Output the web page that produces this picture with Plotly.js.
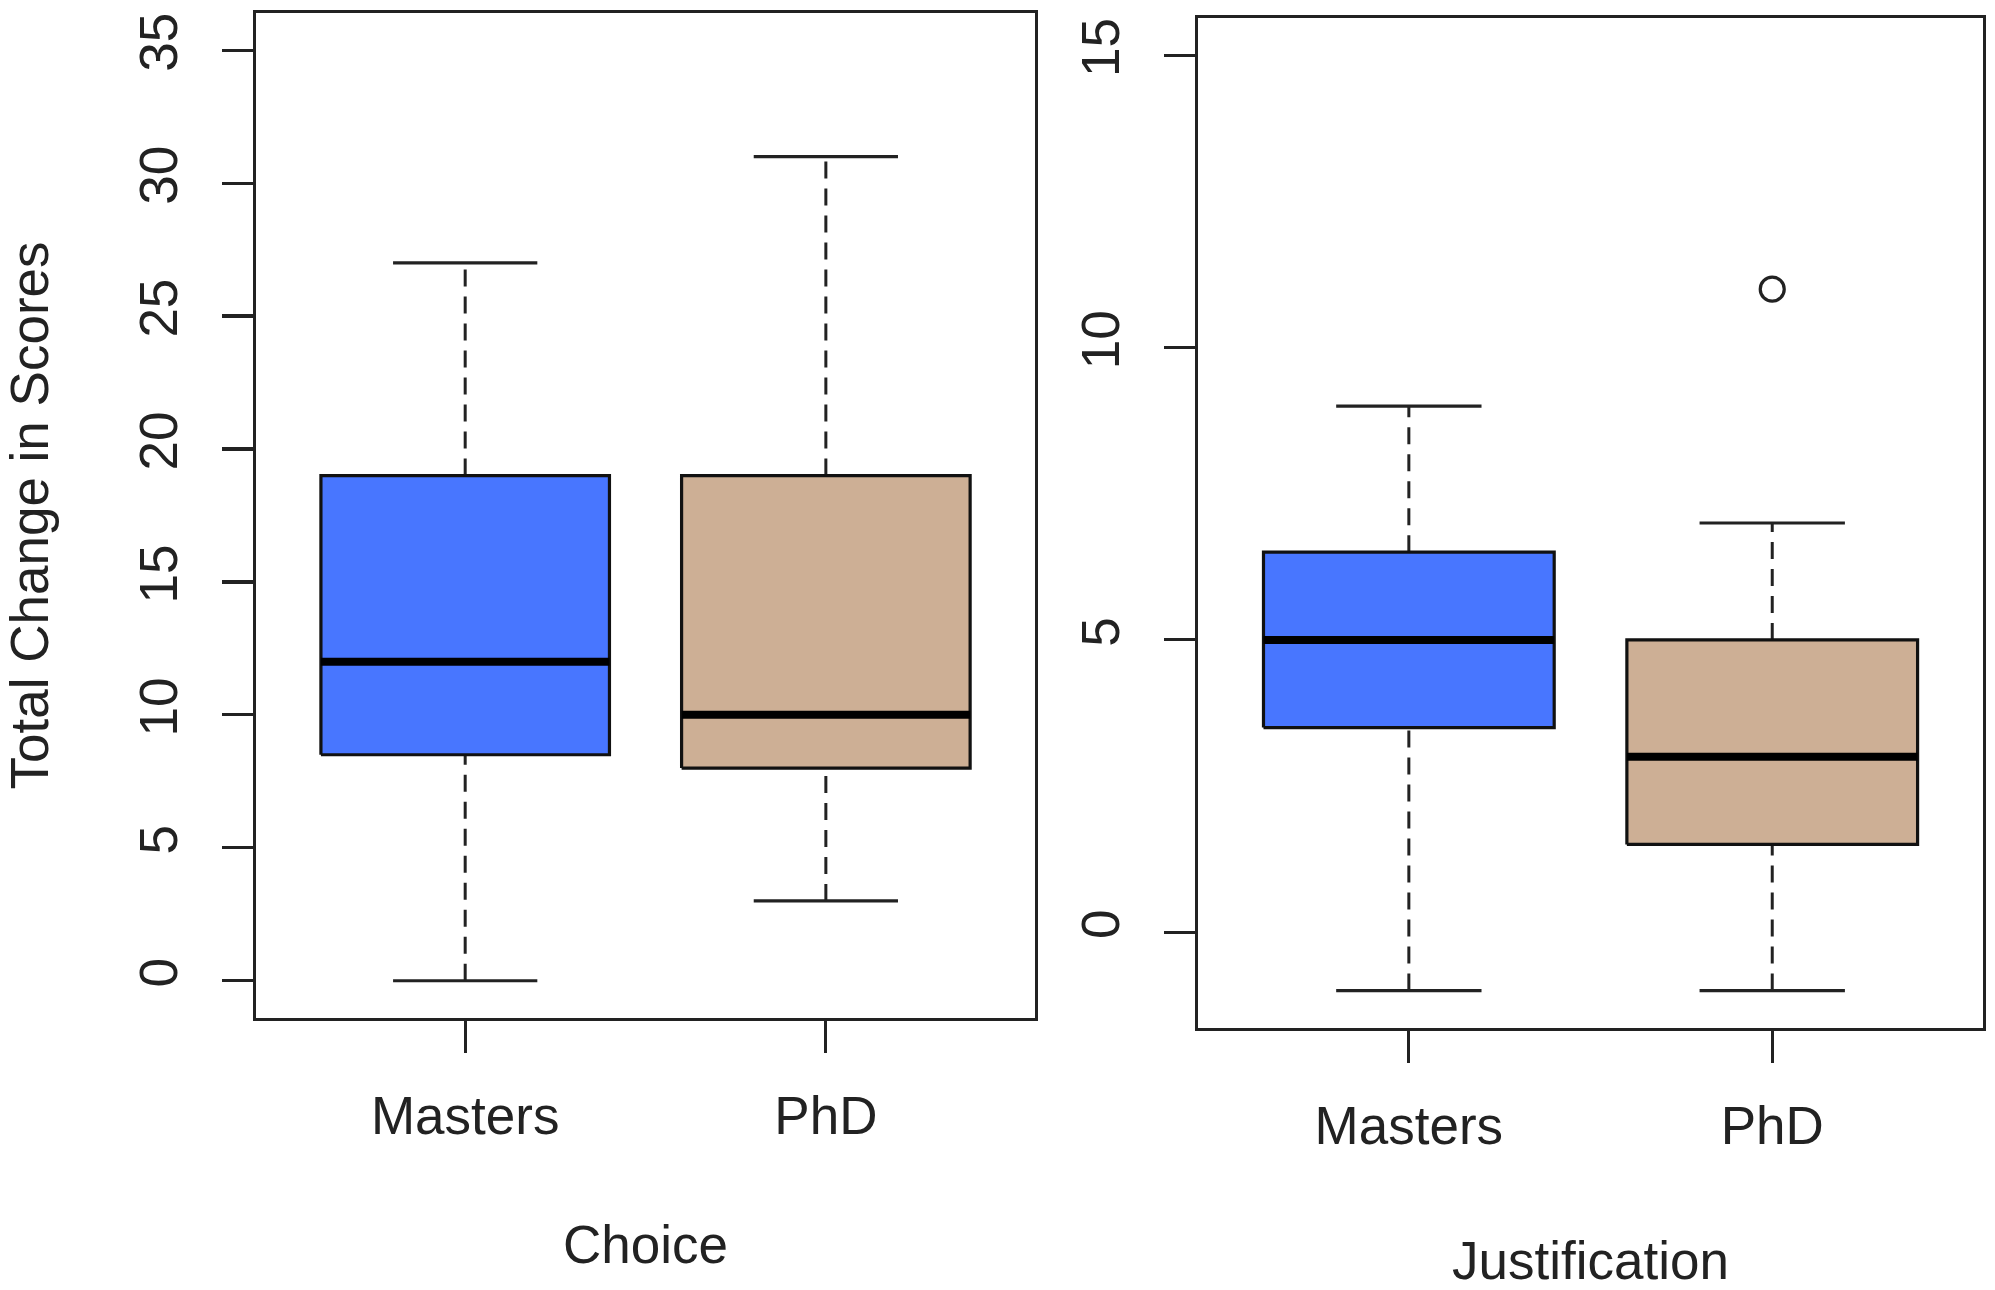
<!DOCTYPE html>
<html>
<head>
<meta charset="utf-8">
<script src="https://cdn.plot.ly/plotly-3.0.1.min.js"></script>
<style>html,body{margin:0;padding:0;background:#fff;}#chart{width:1995px;height:1290px;}</style>
</head>
<body>
<div id="chart"></div>
<script>
// ---- data ----
const categories = ['Masters', 'PhD'];
const categoryPositions = [1, 2];

// Panel 1: Choice
const choiceLower  = [0, 3];
const choiceQ1     = [8.5, 8];
const choiceMedian = [12, 10];
const choiceQ3     = [19, 19];
const choiceUpper  = [27, 31];
const choiceOutliers = [[], []];

// Panel 2: Justification
const justLower  = [-1, -1];
const justQ1     = [3.5, 1.5];
const justMedian = [5, 3];
const justQ3     = [6.5, 5];
const justUpper  = [9, 7];
const justOutliers = [[], [11]];

const yTicksChoice = [0, 5, 10, 15, 20, 25, 30, 35];
const yTicksJust = [0, 5, 10, 15];

const fillColors = ['#4876FF', '#CDAF95'];

// ---- build traces ----
const BOXHALF = 0.4, CAPHALF = 0.2;
function panelTraces(lower, q1, med, q3, upper, outl, xa, ya) {
  const tr = [];
  categoryPositions.forEach((x, i) => {
    // dashed whiskers
    tr.push({type:'scatter', mode:'lines', xaxis:xa, yaxis:ya, hoverinfo:'skip',
      x:[x, x, null, x, x], y:[lower[i], q1[i], null, q3[i], upper[i]],
      line:{color:'#222', width:3, dash:'17px,10px'}});
    // caps
    tr.push({type:'scatter', mode:'lines', xaxis:xa, yaxis:ya, hoverinfo:'skip',
      x:[x-CAPHALF, x+CAPHALF, null, x-CAPHALF, x+CAPHALF],
      y:[lower[i], lower[i], null, upper[i], upper[i]],
      line:{color:'#222', width:3.2}});
    // box
    tr.push({type:'scatter', mode:'lines', xaxis:xa, yaxis:ya, hoverinfo:'skip',
      x:[x-BOXHALF, x+BOXHALF, x+BOXHALF, x-BOXHALF, x-BOXHALF],
      y:[q1[i], q1[i], q3[i], q3[i], q1[i]],
      fill:'toself', fillcolor:fillColors[i],
      line:{color:'#111', width:3.2}});
    // median
    tr.push({type:'scatter', mode:'lines', xaxis:xa, yaxis:ya, hoverinfo:'skip',
      x:[x-BOXHALF, x+BOXHALF], y:[med[i], med[i]],
      line:{color:'#000', width:8}});
    // outliers
    if (outl[i].length) {
      tr.push({type:'scatter', mode:'markers', xaxis:xa, yaxis:ya, hoverinfo:'skip',
        x:outl[i].map(() => x), y:outl[i],
        marker:{symbol:'circle-open', size:24, color:'#222', line:{width:3.2, color:'#222'}}});
    }
  });
  return tr;
}

const data = [].concat(
  panelTraces(choiceLower, choiceQ1, choiceMedian, choiceQ3, choiceUpper, choiceOutliers, 'x', 'y'),
  panelTraces(justLower, justQ1, justMedian, justQ3, justUpper, justOutliers, 'x2', 'y2')
);

const FONT = '"Liberation Sans", Arial, Helvetica, sans-serif';
const txt = {family: FONT, size: 53, color: '#222'};

function xAxis(domain, anchor, title, standoff) {
  return {
    domain: domain, anchor: anchor, range: [0.42, 2.58],
    tickmode: 'array', tickvals: categoryPositions, ticktext: categories,
    ticks: 'outside', ticklen: 32, tickwidth: 3.2, tickcolor: '#222',
    tickfont: txt, ticklabelstandoff: 17,
    showline: true, mirror: true, linecolor: '#222', linewidth: 3.4,
    showgrid: false, zeroline: false, fixedrange: true,
    title: {text: title, font: txt, standoff: standoff}
  };
}
function yAxis(domain, anchor, range, ticks, title) {
  const ax = {
    domain: domain, anchor: anchor, range: range,
    tickmode: 'array', tickvals: ticks,
    ticks: 'outside', ticklen: 31, tickwidth: 3.2, tickcolor: '#222',
    tickfont: txt, tickangle: -90, ticklabelstandoff: 23,
    showline: true, mirror: true, linecolor: '#222', linewidth: 3.4,
    showgrid: false, zeroline: false, fixedrange: true
  };
  if (title) ax.title = {text: title, font: txt, standoff: 66};
  return ax;
}

const layout = {
  width: 1995, height: 1290,
  margin: {l: 256, r: 12, t: 13, b: 262},
  paper_bgcolor: '#fff', plot_bgcolor: '#fff',
  showlegend: false,
  xaxis: xAxis([0, 0.4511], 'y', 'Choice', 83),
  yaxis: yAxis([0.0099, 1], 'x', [-1.4, 36.4], yTicksChoice, 'Total Change in Scores'),
  xaxis2: xAxis([0.5455, 1], 'y2', 'Justification', 95),
  yaxis2: yAxis([0, 0.9951], 'x2', [-1.64, 15.64], yTicksJust, null)
};

Plotly.newPlot('chart', data, layout, {displayModeBar: false, staticPlot: true});
</script>
</body>
</html>
